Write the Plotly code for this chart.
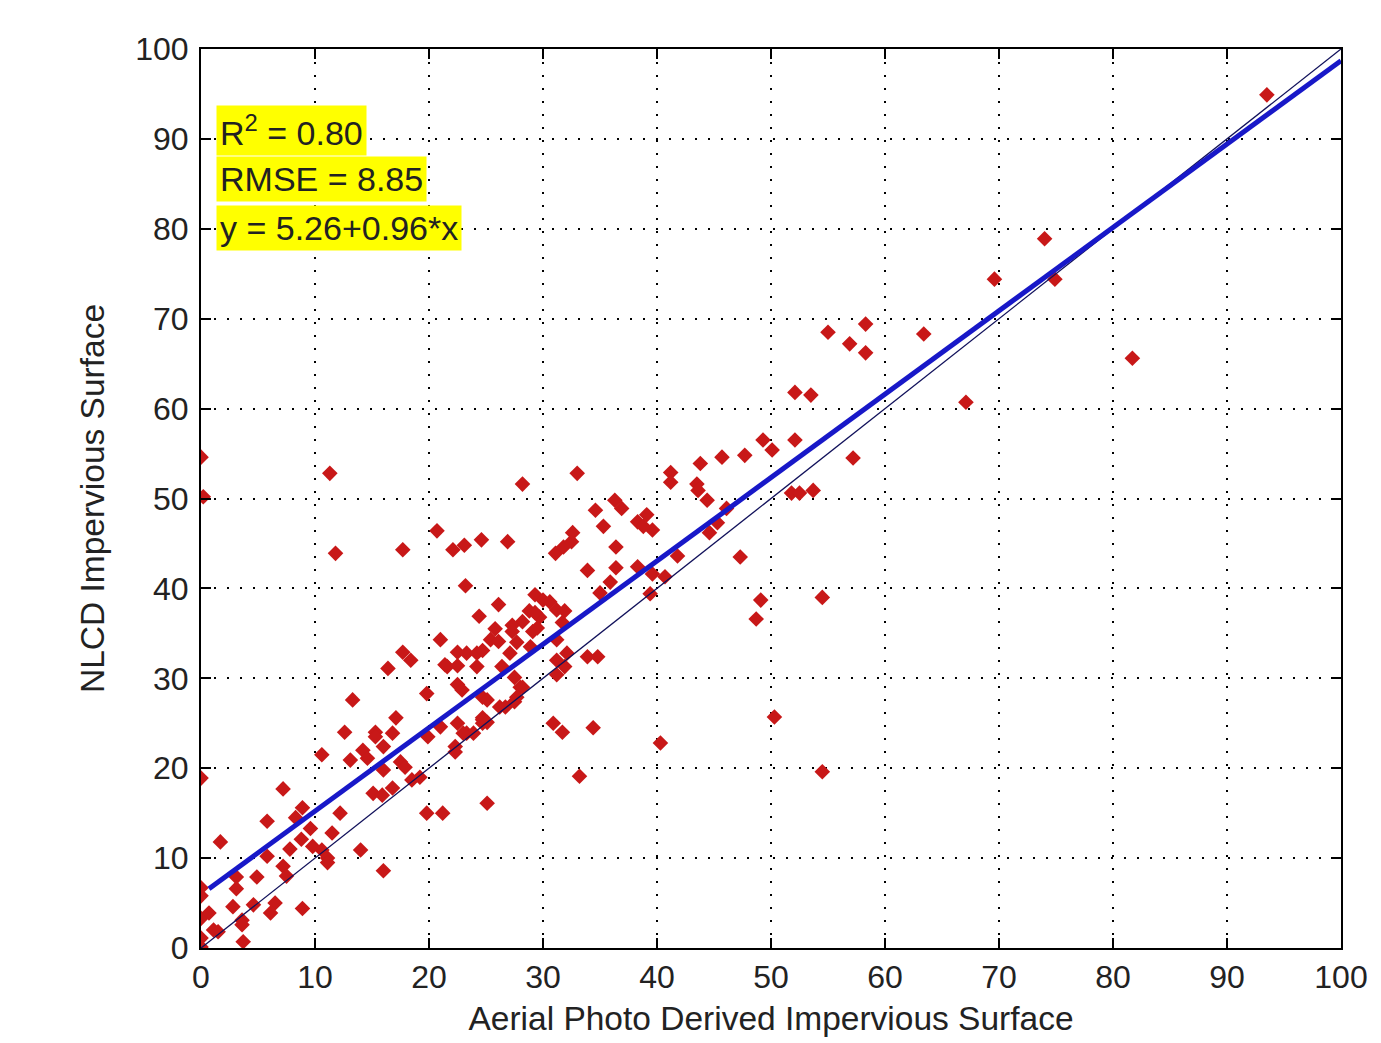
import plotly.graph_objects as go

# Aerial photo derived impervious surface (x) vs NLCD impervious surface (y)
aerial = [
    0, 0.2, 0, 0, 0, 0, 0, 0,
    7.2, 8.9, 12.2, 5.8, 8.3, 9.6, 11.5, 1.7, 8.8, 9.8, 7.8, 10.6, 11.1, 11.1, 5.8, 7.2,
    7.5, 4.9, 3.1, 3.1, 2.8, 4.6, 6.5, 6.1, 8.9, 0.7, 3.6, 3.6, 1.1, 1.5, 3.7,
    13.3, 19.8, 22.5, 22.9, 12.6, 15.3, 15.3, 16.8, 17.1, 16.0, 10.6, 13.1, 14.2, 14.6,
    17.5, 17.9, 16.0, 19.9, 21.0, 22.5, 23.3, 24.7, 24.7, 22.3, 22.3, 19.2, 18.5, 15.1,
    15.9, 16.8, 19.8, 21.2, 16.0, 14.0, 25.1, 23.9, 23.0,
    11.3, 11.8, 17.7, 20.7, 22.1, 23.1, 24.6, 23.2, 24.4, 21.0, 17.7, 18.4, 16.4, 21.6,
    22.5, 24.2, 22.5, 23.3, 24.2,
    28.2, 33.0, 26.9, 31.1, 31.8, 32.5, 32.6, 34.6, 36.3, 36.9, 35.3, 38.3, 39.6, 39.1,
    38.8, 36.4, 33.9, 36.4, 35.9, 35.0, 38.3, 39.6, 40.7, 39.4, 41.2, 41.2, 43.8, 45.7,
    43.5, 43.6, 44.4, 44.6, 45.3, 47.3, 41.8,
    29.3, 30.0, 30.6, 31.2, 31.9, 28.8, 29.7, 29.5, 29.3, 28.2, 27.3, 27.3, 27.7, 26.1,
    25.8, 25.4, 26.1, 24.7, 21.4, 26.4, 27.1, 28.9, 31.2, 31.2, 32.1, 31.9, 31.2, 33.9,
    34.8, 27.5, 28.0, 28.2, 24.7, 25.1, 26.2, 26.7, 27.5, 24.7, 25.1, 30.9, 31.7, 34.4,
    40.3, 33.2, 31.7, 27.7, 29.1,
    49.3, 50.1, 52.1, 47.7, 46.1, 51.8, 52.5, 53.7, 57.2, 49.1, 48.7, 54.5, 50.3, 54.5,
    52.1, 53.5, 55.0, 58.3, 56.9, 58.3, 63.4, 67.1, 69.6, 74.0, 74.9, 81.7, 93.5,
]
nlcd = [
    54.6, 50.2, 18.9, 6.7, 5.8, 3.3, 1.1, 0.1,
    17.7, 15.6, 15.0, 14.1, 14.5, 13.3, 12.8, 11.8, 12.1, 11.3, 11.0, 10.9, 10.0, 9.5, 10.2, 9.1,
    8.0, 7.9, 7.9, 6.6, 4.6, 4.8, 5.0, 3.9, 4.4, 3.9, 3.1, 2.6, 2.0, 1.8, 0.7,
    27.6, 28.3, 29.3, 28.7, 24.0, 24.0, 23.5, 23.9, 25.6, 22.4, 21.5, 20.9, 22.0, 21.1,
    20.7, 20.1, 19.8, 23.5, 24.6, 25.0, 23.9, 25.0, 25.6, 22.4, 21.8, 19.0, 18.7, 17.2,
    17.0, 17.8, 15.0, 15.0, 8.6, 10.9, 16.1, 23.9, 23.9,
    52.8, 43.9, 44.3, 46.4, 44.3, 44.8, 45.4, 40.3, 36.9, 34.3, 32.9, 32.0, 31.1, 31.3,
    31.4, 31.3, 32.9, 32.8, 32.8,
    51.6, 52.8, 45.2, 43.9, 44.6, 45.2, 46.2, 48.7, 49.8, 48.9, 46.9, 47.4, 46.5, 48.2,
    46.9, 44.6, 42.0, 42.3, 40.7, 39.5, 42.4, 41.6, 41.3, 39.4, 52.9, 51.8, 53.9, 54.6,
    51.6, 50.9, 49.8, 46.2, 47.3, 43.5, 43.6,
    39.3, 38.7, 38.5, 37.6, 37.5, 37.5, 36.8, 35.6, 37.3, 36.3, 35.9, 35.2, 34.0, 38.2,
    35.5, 34.3, 34.1, 33.1, 31.5, 31.3, 32.8, 33.5, 34.3, 32.0, 32.8, 31.3, 30.4, 32.4,
    32.4, 30.1, 29.0, 29.0, 27.9, 27.6, 26.8, 26.8, 27.4, 25.4, 25.1, 25.0, 24.0, 24.5,
    22.8, 19.1, 36.2, 27.9, 35.2,
    56.5, 55.4, 56.5, 54.8, 48.9, 50.6, 50.6, 50.9, 54.5, 38.7, 36.6, 39.0, 25.7, 19.6,
    61.8, 61.5, 68.5, 69.4, 67.2, 66.2, 68.3, 60.7, 74.4, 78.9, 74.4, 65.6, 94.9,
]

# Regression line as drawn and 1:1 reference line
fit_x = [0.7, 100]
fit_y = [6.6, 98.7]
one_x = [0, 100]
one_y = [0, 100]

tick_vals = [0, 10, 20, 30, 40, 50, 60, 70, 80, 90, 100]
tick_text = ["0", "10", "20", "30", "40", "50", "60", "70", "80", "90", "100"]

stats_lines = ["R<sup>2</sup> = 0.80", "RMSE = 8.85", "y = 5.26+0.96*x"]
stats_y = [90.9, 85.5, 80.1]

FONT = "Liberation Sans, Arial, Helvetica, sans-serif"
TXT = "#222222"

fig = go.Figure()
fig.add_trace(go.Scatter(
    x=aerial, y=nlcd, mode="markers",
    marker=dict(symbol="diamond", size=12, color="#c81818", line=dict(width=0)),
    showlegend=False, hoverinfo="x+y",
))
fig.add_trace(go.Scatter(
    x=one_x, y=one_y, mode="lines",
    line=dict(color="#10105a", width=1.3), showlegend=False,
))
fig.add_trace(go.Scatter(
    x=fit_x, y=fit_y, mode="lines",
    line=dict(color="#1818c8", width=5), showlegend=False,
))

for txt, yy in zip(stats_lines, stats_y):
    fig.add_annotation(
        x=1.3, y=yy, xref="x", yref="y", text=txt, showarrow=False,
        xanchor="left", yanchor="middle", align="left",
        font=dict(family=FONT, size=34, color=TXT),
        bgcolor="#ffff00", borderpad=3,
    )

axis_common = dict(
    range=[0, 100], tickvals=tick_vals, ticktext=tick_text,
    showgrid=True, gridcolor="#000000", gridwidth=2, griddash="2px,11px",
    showline=True, linecolor="#000000", linewidth=2, mirror="ticks",
    ticks="inside", ticklen=10, tickwidth=2, tickcolor="#000000",
    zeroline=False, fixedrange=True,
    tickfont=dict(family=FONT, size=32, color=TXT),
)

fig.update_layout(
    width=1381, height=1043,
    margin=dict(l=201, r=40, t=49, b=95),
    paper_bgcolor="#ffffff", plot_bgcolor="#ffffff",
    xaxis=dict(
        **axis_common,
        title=dict(text="Aerial Photo Derived Impervious Surface",
                   font=dict(family=FONT, size=33.5, color=TXT), standoff=12),
    ),
    yaxis=dict(
        **axis_common,
        ticklabelstandoff=4,
        title=dict(text="NLCD Impervious Surface",
                   font=dict(family=FONT, size=33.5, color=TXT), standoff=20),
    ),
)

fig.write_html("out.html")
